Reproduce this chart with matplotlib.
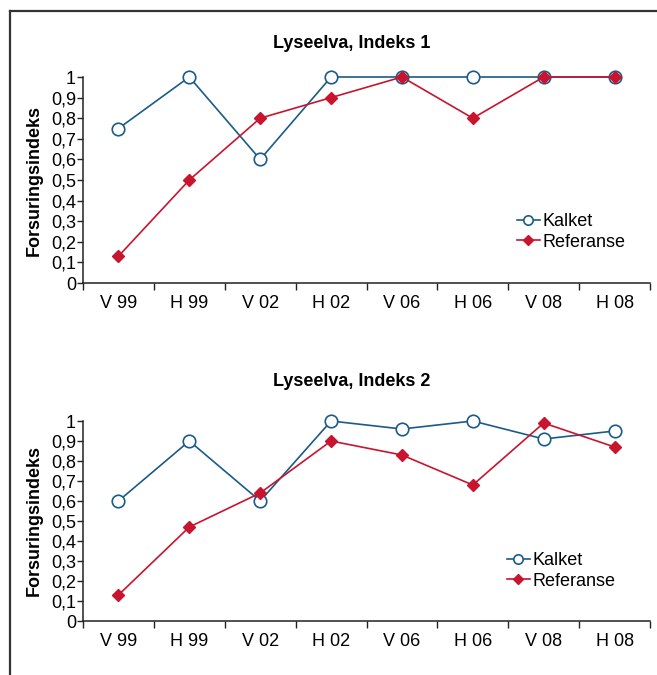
import matplotlib
matplotlib.use("Agg")
import matplotlib.pyplot as plt
from matplotlib.lines import Line2D
from matplotlib.ticker import FixedLocator, FuncFormatter

plt.rcParams['font.family'] = ['Liberation Sans', 'DejaVu Sans']

periods = ["V 99", "H 99", "V 02", "H 02", "V 06", "H 06", "V 08", "H 08"]

titles = ["Lyseelva, Indeks 1", "Lyseelva, Indeks 2"]

kalket_1 = [0.75, 1.0, 0.6, 1.0, 1.0, 1.0, 1.0, 1.0]
referanse_1 = [0.13, 0.5, 0.8, 0.9, 1.0, 0.8, 1.0, 1.0]

kalket_2 = [0.6, 0.9, 0.6, 1.0, 0.96, 1.0, 0.91, 0.95]
referanse_2 = [0.13, 0.47, 0.64, 0.9, 0.83, 0.68, 0.99, 0.87]

blue = "#1b5b87"
red = "#c8142f"
W, H = 657, 675
FS = 13

fig = plt.figure(figsize=(W / 100, H / 100), dpi=100)

# frame lines along the top and left edge of the figure
fig.add_artist(Line2D([10 / W, 1.0], [1 - 11 / H, 1 - 11 / H],
                      transform=fig.transFigure, color="#333333", lw=1.6))
fig.add_artist(Line2D([10 / W, 10 / W], [1 - 11 / H, 0.0],
                      transform=fig.transFigure, color="#333333", lw=1.6))

# panel placement in pixels: (left, right, y of value 1, y of value 0, title y, legend anchor)
panels = [
    (83, 650, 77, 283, 43, (508, 232)),
    (83, 650, 421, 621, 381, (498, 571)),
]
series = [(kalket_1, referanse_1), (kalket_2, referanse_2)]

for (left, right, ytop, ybot, ty, leg), (kal, ref), title in zip(panels, series, titles):
    ax = fig.add_axes([left / W, 1 - ybot / H, (right - left) / W, (ybot - ytop) / H])
    x = list(range(len(periods)))
    ax.plot(x, kal, color=blue, lw=1.2, marker="o", markersize=9,
            markerfacecolor="white", markeredgecolor=blue, markeredgewidth=1.2,
            label="Kalket", clip_on=False, zorder=3)
    ax.plot(x, ref, color=red, lw=1.2, marker="D", markersize=6.5,
            markerfacecolor=red, markeredgecolor=red,
            label="Referanse", clip_on=False, zorder=4)

    ax.set_xlim(-0.5, len(periods) - 0.5)
    ax.set_ylim(0, 1)
    for s in ("top", "right"):
        ax.spines[s].set_visible(False)
    for s in ("left", "bottom"):
        ax.spines[s].set_color("#222222")
        ax.spines[s].set_linewidth(1.1)

    ax.xaxis.set_major_locator(FixedLocator([i - 0.5 for i in range(len(periods) + 1)]))
    ax.xaxis.set_major_formatter(FuncFormatter(lambda v, p: ""))
    ax.xaxis.set_minor_locator(FixedLocator(x))
    ax.set_xticklabels(periods, minor=True)
    ax.tick_params(axis="x", which="major", direction="out", length=5, width=1.0, color="#222222")
    ax.tick_params(axis="x", which="minor", length=0, pad=9, labelsize=FS)

    yt = [i / 10 for i in range(11)]
    ax.set_yticks(yt)
    ax.set_yticklabels(["0"] + [f"0,{i}" for i in range(1, 10)] + ["1"])
    ax.tick_params(axis="y", direction="out", length=4, width=1.0, color="#222222",
                   pad=1, labelsize=FS)

    ax.set_ylabel("Forsuringsindeks", fontsize=FS, fontweight="bold")
    ax.yaxis.set_label_coords((43 - left) / (right - left), 0.5)

    fig.text(352 / W, 1 - ty / H, title, ha="center", va="center",
             fontsize=FS, fontweight="bold")

    ax.legend(loc="center left", bbox_to_anchor=(leg[0] / W, 1 - leg[1] / H),
              bbox_transform=fig.transFigure, frameon=False, fontsize=FS,
              handlelength=1.25, handletextpad=0.15, labelspacing=0.2,
              markerscale=0.75, borderpad=0)

fig.savefig("out.png", dpi=100, facecolor="white")
